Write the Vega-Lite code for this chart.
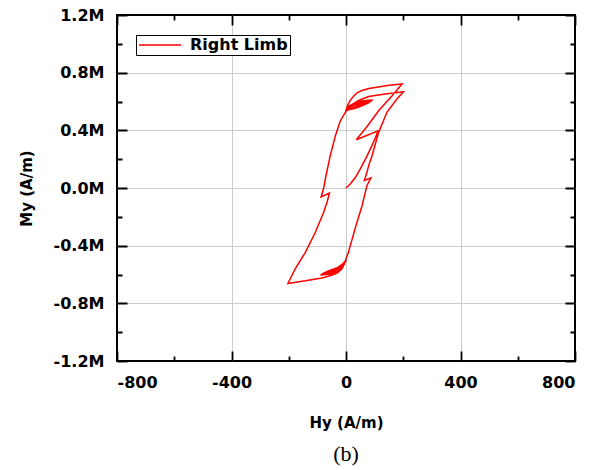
{
  "$schema": "https://vega.github.io/schema/vega-lite/v6.json",
  "width": 458,
  "height": 346,
  "padding": {"left": 19, "top": 7, "right": 10, "bottom": 5},
  "background": "white",
  "config": {
    "view": {"stroke": "black", "strokeWidth": 2},
    "axis": {
      "labelFont": "DejaVu Sans", "labelFontWeight": "bold", "labelFontSize": 16, "labelColor": "black",
      "titleFont": "DejaVu Sans", "titleFontWeight": "bold", "titleFontSize": 15, "titleColor": "black",
      "tickColor": "black", "tickWidth": 1.8, "domain": false, "gridColor": "#cccccc", "gridWidth": 1
    }
  },
  "title": {"text": "(b)", "orient": "bottom", "font": "Liberation Serif", "fontSize": 22, "fontWeight": "normal", "color": "black", "anchor": "middle", "frame": "group", "offset": 14},
  "data": {"values": [
    {"i":1,"H":0,"M":0},{"i":2,"H":15,"M":28000},{"i":3,"H":33,"M":74000},{"i":4,"H":50,"M":132000},{"i":5,"H":68,"M":200000},
    {"i":6,"H":85,"M":270000},{"i":7,"H":103,"M":350000},{"i":8,"H":112,"M":397000},{"i":9,"H":36,"M":335000},{"i":10,"H":75,"M":430000},
    {"i":11,"H":114,"M":536000},{"i":12,"H":161,"M":640000},{"i":13,"H":196,"M":722000},{"i":14,"H":150,"M":712000},{"i":15,"H":114,"M":700000},
    {"i":16,"H":80,"M":690000},{"i":17,"H":56,"M":676000},{"i":18,"H":40,"M":662000},{"i":19,"H":27,"M":638000},{"i":20,"H":15,"M":608000},
    {"i":21,"H":6,"M":575000},{"i":22,"H":0,"M":540000},
    {"i":23,"H":30,"M":552000},{"i":24,"H":60,"M":574000},{"i":25,"H":84,"M":596000},
    {"i":26,"H":60,"M":591000},{"i":27,"H":30,"M":576000},{"i":28,"H":-2,"M":538000},
    {"i":29,"H":30,"M":558000},{"i":30,"H":60,"M":582000},{"i":31,"H":89,"M":603000},
    {"i":32,"H":60,"M":598000},{"i":33,"H":30,"M":582000},{"i":34,"H":-2,"M":532000},
    {"i":35,"H":30,"M":563000},{"i":36,"H":60,"M":588000},{"i":37,"H":93,"M":610000},
    {"i":38,"H":60,"M":606000},{"i":39,"H":30,"M":590000},{"i":40,"H":8,"M":565000},
    {"i":41,"H":-1,"M":528000},{"i":42,"H":-8,"M":505000},{"i":43,"H":-20,"M":465000},{"i":44,"H":-37,"M":363000},{"i":45,"H":-55,"M":224000},
    {"i":46,"H":-70,"M":85000},{"i":47,"H":-78,"M":0},{"i":48,"H":-87,"M":-62000},{"i":49,"H":-58,"M":-35000},{"i":50,"H":-65,"M":-90000},
    {"i":51,"H":-78,"M":-168000},{"i":52,"H":-107,"M":-307000},{"i":53,"H":-142,"M":-446000},{"i":54,"H":-177,"M":-560000},{"i":55,"H":-203,"M":-662000},
    {"i":56,"H":-142,"M":-644000},{"i":57,"H":-84,"M":-624000},{"i":58,"H":-50,"M":-606000},{"i":59,"H":-30,"M":-588000},{"i":60,"H":-14,"M":-560000},
    {"i":61,"H":-3,"M":-515000},
    {"i":62,"H":-30,"M":-552000},{"i":63,"H":-60,"M":-574000},{"i":64,"H":-84,"M":-596000},
    {"i":65,"H":-60,"M":-591000},{"i":66,"H":-30,"M":-576000},{"i":67,"H":1,"M":-505000},
    {"i":68,"H":-30,"M":-558000},{"i":69,"H":-60,"M":-582000},{"i":70,"H":-89,"M":-603000},
    {"i":71,"H":-60,"M":-598000},{"i":72,"H":-30,"M":-582000},{"i":73,"H":1,"M":-500000},
    {"i":74,"H":-30,"M":-563000},{"i":75,"H":-60,"M":-588000},{"i":76,"H":-80,"M":-600000},
    {"i":77,"H":-60,"M":-600000},{"i":78,"H":-30,"M":-588000},{"i":79,"H":-6,"M":-530000},{"i":80,"H":0,"M":-490000},
    {"i":81,"H":8,"M":-450000},{"i":82,"H":15,"M":-400000},{"i":83,"H":35,"M":-260000},{"i":84,"H":56,"M":-123000},{"i":85,"H":73,"M":16000},
    {"i":86,"H":87,"M":70000},{"i":87,"H":64,"M":52000},{"i":88,"H":72,"M":100000},{"i":89,"H":80,"M":160000},{"i":90,"H":91,"M":224000},
    {"i":91,"H":114,"M":386000},{"i":92,"H":143,"M":525000},{"i":93,"H":178,"M":617000},{"i":94,"H":201,"M":668000},{"i":95,"H":137,"M":652000},
    {"i":96,"H":79,"M":634000},{"i":97,"H":44,"M":607000},{"i":98,"H":20,"M":578000},{"i":99,"H":5,"M":550000}
  ]},
  "layer": [
    {
      "mark": {"type": "line", "strokeWidth": 1.5, "clip": true},
      "encoding": {
        "x": {"field": "H", "type": "quantitative", "scale": {"domain": [-800, 800], "nice": false},
          "axis": {"orient": "bottom", "title": "Hy (A/m)", "titlePadding": 25, "labelPadding": 13, "offset": -10, "tickSize": 10,
            "values": [-800,-600,-400,-200,0,200,400,600,800],
            "labelExpr": "abs(datum.value) % 400 == 0 ? replace(format(datum.value, 'd'), '\u2212', '-') : ''",
            "tickDash": {"condition": {"test": "abs(datum.value) % 400 == 0", "value": [1, 0]}, "value": [0, 5, 5, 5]},
            "gridOpacity": {"condition": {"test": "abs(datum.value) % 400 == 0 && abs(datum.value) < 800", "value": 1}, "value": 0}}},
        "y": {"field": "M", "type": "quantitative", "scale": {"domain": [-1200000, 1200000], "nice": false},
          "axis": {"orient": "left", "title": "My (A/m)", "titlePadding": 19, "labelPadding": 13, "offset": -10, "tickSize": 10,
            "values": [-1200000,-1000000,-800000,-600000,-400000,-200000,0,200000,400000,600000,800000,1000000,1200000],
            "labelExpr": "abs(round(datum.value/1000)) % 400 == 0 ? replace(format(datum.value/1000000, '.1f'), '\u2212', '-') + 'M' : ''",
            "tickDash": {"condition": {"test": "abs(round(datum.value/1000)) % 400 == 0", "value": [1, 0]}, "value": [0, 5, 5, 5]},
            "gridOpacity": {"condition": {"test": "abs(round(datum.value/1000)) % 400 == 0 && abs(datum.value) < 1100000", "value": 1}, "value": 0}}},
        "order": {"field": "i", "type": "quantitative"},
        "color": {"datum": "Right Limb", "type": "nominal", "scale": {"range": ["#ff0000"]},
          "legend": {"orient": "none", "legendX": 19, "legendY": 20, "title": null, "symbolType": "M-1,0H5", "symbolStrokeWidth": 1.5,
            "symbolSize": 196, "labelFont": "DejaVu Sans", "labelFontWeight": "bold", "labelFontSize": 16, "labelColor": "black",
            "strokeColor": "black", "fillColor": "white", "padding": 2, "labelOffset": 36}}
      }
    },
    {
      "mark": {"type": "line", "strokeOpacity": 0},
      "encoding": {
        "x": {"field": "H", "type": "quantitative",
          "axis": {"orient": "top", "title": null, "labels": false, "grid": false, "offset": -10, "tickSize": 10,
            "values": [-800,-600,-400,-200,0,200,400,600,800],
            "tickDash": {"condition": {"test": "abs(datum.value) % 400 == 0", "value": [1, 0]}, "value": [0, 5, 5, 5]}}},
        "y": {"field": "M", "type": "quantitative",
          "axis": {"orient": "right", "title": null, "labels": false, "grid": false, "offset": -10, "tickSize": 10,
            "values": [-1200000,-1000000,-800000,-600000,-400000,-200000,0,200000,400000,600000,800000,1000000,1200000],
            "tickDash": {"condition": {"test": "abs(round(datum.value/1000)) % 400 == 0", "value": [1, 0]}, "value": [0, 5, 5, 5]}}},
        "order": {"field": "i", "type": "quantitative"}
      }
    }
  ],
  "resolve": {"axis": {"x": "independent", "y": "independent"}}
}
